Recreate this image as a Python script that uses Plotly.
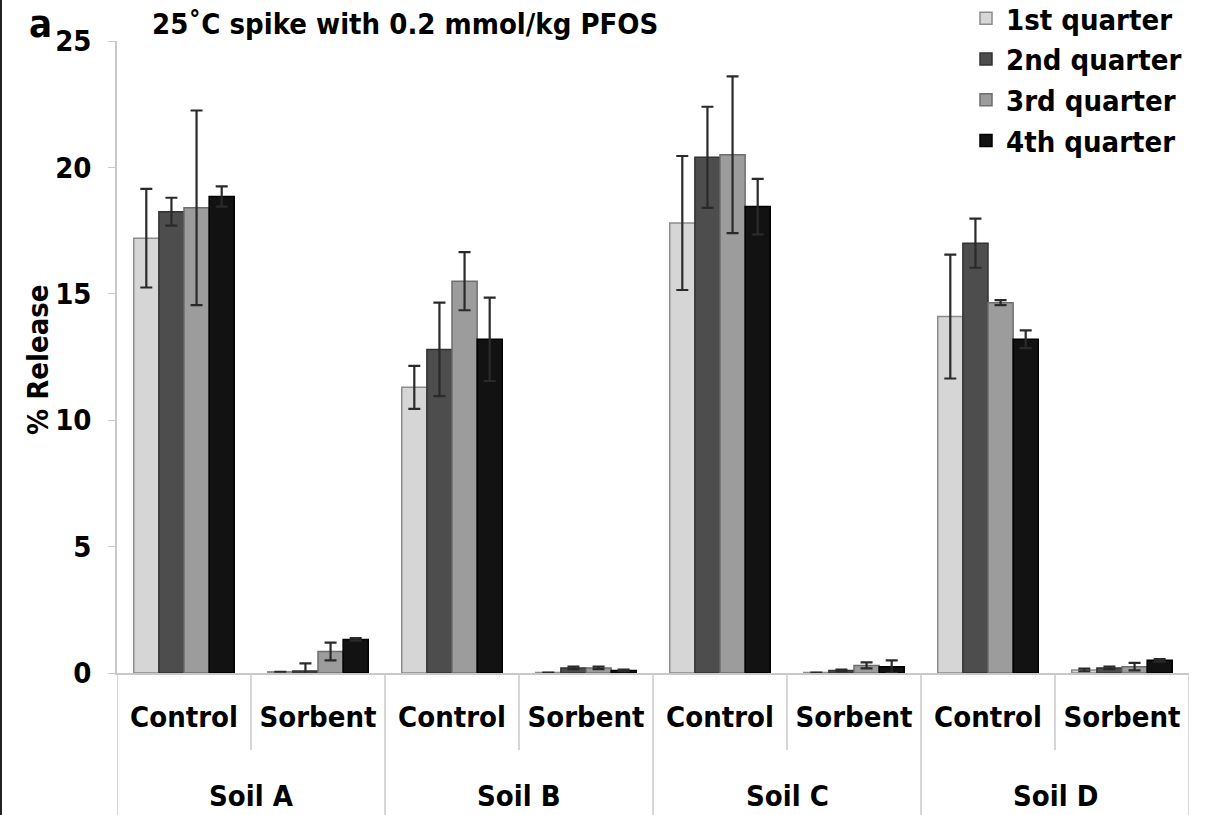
import plotly.graph_objects as go

# Soil / treatment layout of the x axis
soils = ["Soil A", "Soil B", "Soil C", "Soil D"]
treatments = ["Control", "Sorbent"]
quarters = ["1st quarter", "2nd quarter", "3rd quarter", "4th quarter"]

# % release, ordered A-Control, A-Sorbent, B-Control, B-Sorbent, ... D-Sorbent
q1 = [17.2, 0.05, 11.3, 0.02, 17.8, 0.02, 14.1, 0.12]
q1_err = [1.95, 0.0, 0.85, 0.0, 2.65, 0.0, 2.45, 0.05]
q2 = [18.25, 0.08, 12.8, 0.2, 20.4, 0.1, 17.0, 0.2]
q2_err = [0.55, 0.3, 1.85, 0.05, 2.0, 0.03, 0.97, 0.05]
q3 = [18.4, 0.85, 15.5, 0.2, 20.5, 0.3, 14.65, 0.25]
q3_err = [3.85, 0.35, 1.15, 0.05, 3.1, 0.12, 0.1, 0.15]
q4 = [18.85, 1.33, 13.2, 0.1, 18.45, 0.25, 13.2, 0.5]
q4_err = [0.4, 0.05, 1.65, 0.03, 1.1, 0.25, 0.35, 0.05]

y_ticks = [0, 5, 10, 15, 20, 25]

values = [q1, q2, q3, q4]
errors = [q1_err, q2_err, q3_err, q4_err]
fills = ["#d6d6d6", "#4d4d4d", "#9c9c9c", "#121212"]
edges = ["#8c8c8c", "#333333", "#6e6e6e", "#000000"]

FONT = "DejaVu Sans Condensed, DejaVu Sans, sans-serif"
FS = 29


def tfont(size=FS, weight="bold"):
    return dict(family=FONT, size=size, color="#000", weight=weight)


labels = [t for s in soils for t in treatments]
xpos = list(range(len(labels)))

fig = go.Figure()
for name, v, e, f, ec in zip(quarters, values, errors, fills, edges):
    fig.add_trace(go.Bar(
        x=xpos, y=v, name=name,
        marker=dict(color=f, line=dict(color=ec, width=1.5)),
        error_y=dict(type="data", array=e, visible=True,
                     color="#2a2a2a", thickness=2.2, width=6),
    ))

W, H = 1209, 815
L, R, T, B = 117, 20, 41, 142
pw, ph = W - L - R, H - T - B


def px_x(p):
    return (p - L) / pw


def px_y(p):
    return (H - B - p) / ph


shapes = []
grid = "#c8c8c8"
# divider lines beneath the axis
n = len(labels)
for i in range(n + 1):
    xb = i - 0.5
    long_line = (i % 2 == 0)
    shapes.append(dict(type="line", xref="x", yref="paper",
                       x0=xb, x1=xb, y0=0, y1=px_y(815 if long_line else 750),
                       line=dict(color=grid, width=1.5)))
# left border of the panel
shapes.append(dict(type="line", xref="paper", yref="paper",
                   x0=px_x(1), x1=px_x(1), y0=px_y(0), y1=px_y(815),
                   line=dict(color="#222222", width=2)))

annotations = []
for k, s in enumerate(soils):
    annotations.append(dict(x=2 * k + 0.5, y=px_y(796), xref="x", yref="paper",
                            text=s, showarrow=False, xanchor="center", yanchor="middle",
                            font=tfont()))
annotations.append(dict(x=px_x(150), y=px_y(24), xref="paper", yref="paper",
                        text="25˚C spike with 0.2 mmol/kg PFOS", showarrow=False,
                        xanchor="left", yanchor="middle", font=tfont()))
annotations.append(dict(x=px_x(40), y=px_y(0), xref="paper", yref="paper",
                        text="a", showarrow=False, xanchor="center", yanchor="top",
                        font=tfont(38)))
annotations.append(dict(x=px_x(38), y=px_y(360), xref="paper", yref="paper",
                        text="% Release", showarrow=False, textangle=-90,
                        xanchor="center", yanchor="middle", font=tfont()))

fig.update_layout(
    width=W, height=H,
    margin=dict(l=L, r=R, t=T, b=B, autoexpand=False),
    paper_bgcolor="white", plot_bgcolor="white",
    barmode="group", bargap=0.25, bargroupgap=0,
    font=tfont(),
    showlegend=True,
    legend=dict(x=px_x(966), y=px_y(-7), xanchor="left", yanchor="top",
                font=tfont(), bgcolor="rgba(0,0,0,0)", itemwidth=30,
                tracegroupgap=0),
    shapes=shapes, annotations=annotations,
)
fig.update_xaxes(range=[-0.5, n - 0.5], tickmode="array", tickvals=xpos, ticktext=labels,
                 showline=True, linecolor=grid, linewidth=1.5, ticks="",
                 showgrid=False, zeroline=False, ticklabelstandoff=17,
                 tickfont=tfont())
fig.update_yaxes(range=[0, 25], tickmode="array", tickvals=y_ticks,
                 showline=True, linecolor=grid, linewidth=1.5, ticks="outside",
                 ticklen=7, tickcolor=grid, showgrid=False, zeroline=False,
                 ticklabelstandoff=11, tickfont=tfont())

fig.write_html("out.html")
